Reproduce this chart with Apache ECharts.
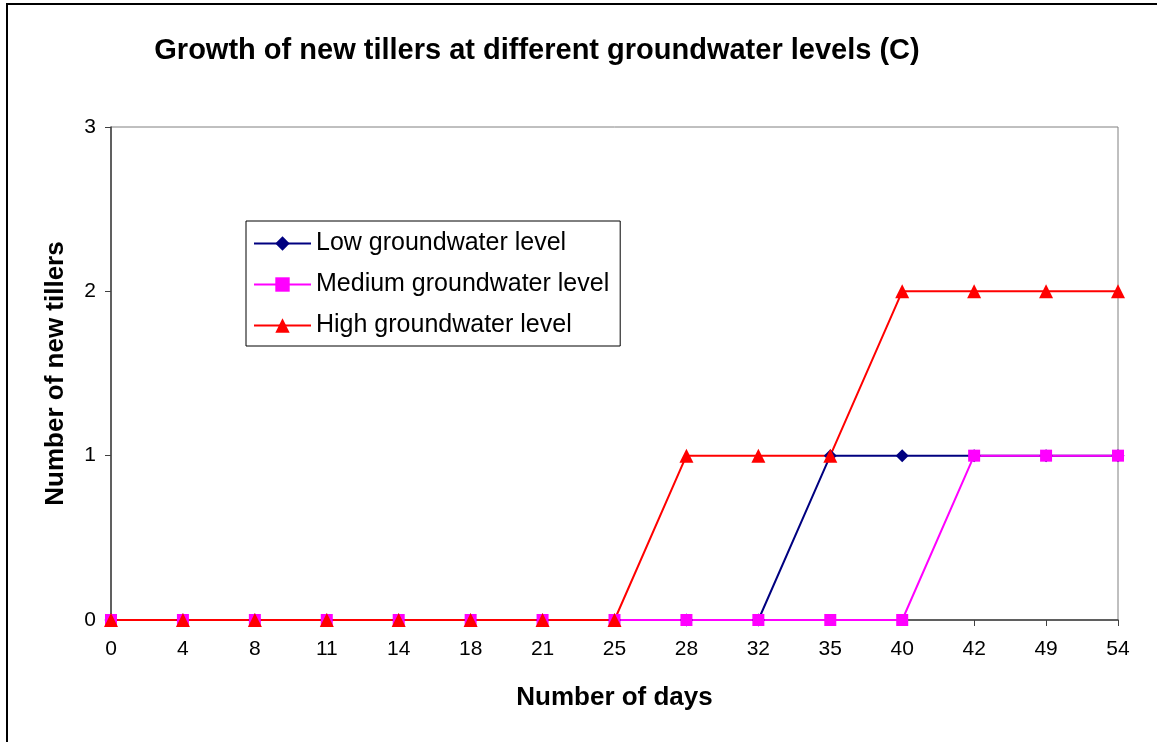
<!DOCTYPE html>
<html>
<head>
<meta charset="utf-8">
<script src="https://cdn.jsdelivr.net/npm/echarts@6/dist/echarts.min.js"></script>
<style>
  html, body { margin: 0; padding: 0; background: #fff; }
  #chart { width: 1157px; height: 742px; }
</style>
</head>
<body>
<div id="chart"></div>
<script>
// x categories (days) and series values
var days = ["0", "4", "8", "11", "14", "18", "21", "25", "28", "32", "35", "40", "42", "49", "54"];
var lowLevel = [0, 0, 0, 0, 0, 0, 0, 0, 0, 0, 1, 1, 1, 1, 1];
var mediumLevel = [0, 0, 0, 0, 0, 0, 0, 0, 0, 0, 0, 0, 1, 1, 1];
var highLevel = [0, 0, 0, 0, 0, 0, 0, 0, 1, 1, 1, 2, 2, 2, 2];

var font = "'Liberation Sans', Arial, sans-serif";

var myChart = echarts.init(document.getElementById("chart"));

var option = {
  animation: false,
  backgroundColor: "#fff",
  textStyle: { fontFamily: font },
  title: {
    text: "Growth of new tillers at different groundwater levels (C)",
    left: 532,
    textAlign: "center",
    top: 31,
    textStyle: { fontFamily: font, fontSize: 29, fontWeight: "bold", color: "#000" }
  },
  graphic: [
    {
      type: "rect",
      shape: { x: 7, y: 4, width: 1200, height: 800 },
      style: { fill: "none", stroke: "#000", lineWidth: 2 },
      silent: true
    }
  ],
  legend: {
    orient: "vertical",
    left: 246,
    top: 221,
    padding: [10, 11, 8, 7],
    itemGap: 16,
    itemWidth: 57,
    itemHeight: 18,
    borderColor: "#000",
    borderWidth: 1,
    backgroundColor: "#fff",
    textStyle: { fontFamily: font, fontSize: 25, color: "#000" },
    data: ["Low groundwater level", "Medium groundwater level", "High groundwater level"]
  },
  grid: {
    left: 111,
    right: 39,
    top: 127,
    bottom: 122,
    show: true,
    borderColor: "#808080",
    borderWidth: 1
  },
  xAxis: {
    type: "category",
    data: days,
    boundaryGap: false,
    name: "Number of days",
    nameLocation: "middle",
    nameGap: 65,
    nameTextStyle: { fontFamily: font, fontSize: 26, fontWeight: "bold", color: "#000" },
    axisLine: { lineStyle: { color: "#404040", width: 1.5 } },
    axisTick: { show: true, length: 6, alignWithLabel: true, lineStyle: { color: "#404040" } },
    axisLabel: { fontFamily: font, fontSize: 21, color: "#000", margin: 19, interval: 0 },
    splitLine: { show: false }
  },
  yAxis: {
    type: "value",
    min: 0,
    max: 3,
    interval: 1,
    name: "Number of new tillers",
    nameLocation: "middle",
    nameGap: 42,
    nameTextStyle: { fontFamily: font, fontSize: 26, fontWeight: "bold", color: "#000" },
    axisLine: { show: true, lineStyle: { color: "#404040", width: 1.5 } },
    axisTick: { show: true, length: 6, lineStyle: { color: "#404040" } },
    axisLabel: { fontFamily: font, fontSize: 21, color: "#000", margin: 15 },
    splitLine: { show: false }
  },
  series: [
    {
      name: "Low groundwater level",
      type: "line",
      data: lowLevel,
      symbol: "diamond",
      symbolSize: 13,
      showAllSymbol: true,
      color: "#000080",
      lineStyle: { color: "#000080", width: 2 },
      itemStyle: { color: "#000080" }
    },
    {
      name: "Medium groundwater level",
      type: "line",
      data: mediumLevel,
      symbol: "rect",
      symbolSize: 12,
      showAllSymbol: true,
      color: "#ff00ff",
      lineStyle: { color: "#ff00ff", width: 2 },
      itemStyle: { color: "#ff00ff" }
    },
    {
      name: "High groundwater level",
      type: "line",
      data: highLevel,
      symbol: "triangle",
      symbolSize: 14,
      showAllSymbol: true,
      color: "#ff0000",
      lineStyle: { color: "#ff0000", width: 2 },
      itemStyle: { color: "#ff0000" }
    }
  ]
};

myChart.setOption(option);
</script>
</body>
</html>
